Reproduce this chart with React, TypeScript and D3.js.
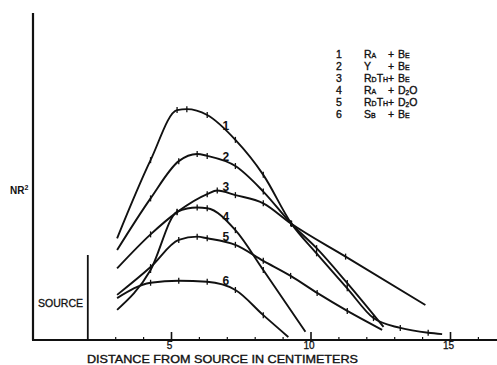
import * as d3 from 'd3'

const width = 497
const height = 365

// legend
const curveNumbers = ['1', '2', '3', '4', '5', '6']
const sources = ['Ra', 'Y', 'RdTh', 'Ra', 'RdTh', 'Sb']
const targets = ['Be', 'Be', 'Be', 'D2O', 'D2O', 'Be']

// [distance from source in cm, NR² in arbitrary units]
const curve1: [number, number][] = [
    [3.05, 31.1], [4.25, 55.0], [5.2, 70.3], [5.55, 70.6], [6.28, 68.8],
    [7.29, 61.2], [8.29, 50.5], [9.3, 35.6], [10.2, 26.5], [11.3, 15.8],
    [12.24, 6.7], [13.2, 3.7], [14.2, 2.2], [14.7, 1.8],
]
const curve2: [number, number][] = [
    [3.05, 27.5], [4.25, 43.3], [5.26, 54.7], [5.92, 56.9], [6.28, 56.3],
    [7.29, 53.2], [8.29, 45.4], [9.3, 35.5], [10.2, 28.1], [11.3, 17.4],
    [12.6, 4.0],
]
const curve3: [number, number][] = [
    [3.05, 21.9], [4.25, 32.3], [5.2, 39.1], [6.28, 44.6], [6.64, 45.7],
    [7.29, 44.3], [8.29, 41.8], [9.27, 35.7], [11.24, 25.5], [14.1, 10.7],
]
const curve4: [number, number][] = [
    [3.05, 9.2], [4.25, 21.4], [5.2, 39.2], [5.92, 40.5], [6.28, 40.3],
    [7.29, 33.6], [8.29, 21.4], [9.8, 2.5],
]
const curve5: [number, number][] = [
    [3.05, 13.8], [4.25, 22.3], [5.26, 30.6], [5.92, 31.6], [6.28, 31.1],
    [7.29, 29.1], [8.29, 24.2], [9.27, 19.6], [10.22, 14.4], [11.3, 8.9],
    [12.55, 3.1],
]
const curve6: [number, number][] = [
    [3.05, 12.8], [4.25, 17.5], [5.26, 18.1], [6.28, 17.8], [7.29, 15.3],
    [8.29, 7.6], [9.19, 0.9],
]
const curves = [curve1, curve2, curve3, curve4, curve5, curve6]
const labelAt = [6.95, 6.95, 6.95, 6.95, 6.95, 6.95]

const majorTicks = [5, 10, 15]
const minorTicks = [3, 4, 6, 7, 8, 9, 11, 12, 13, 14, 16]
const sourceAt = 2

const font = '"Liberation Sans", Arial, sans-serif'
const ink = '#111'

export default function App() {
    const x = d3.scaleLinear().domain([0, 15]).range([32, 450.5])
    const y = d3.scaleLinear().domain([0, 100]).range([340, 13])

    const line = d3
        .line<[number, number]>()
        .x((d) => x(d[0]))
        .y((d) => y(d[1]))
        .curve(d3.curveMonotoneX)

    // value of a curve at a given distance (piecewise linear)
    const valueAt = (c: [number, number][], at: number) =>
        d3
            .scaleLinear()
            .domain(c.map((d) => d[0]))
            .range(c.map((d) => d[1]))(at)

    const xEnd = x.invert(width)

    return (
        <svg
            width={width}
            height={height}
            style={{ position: 'absolute', left: 0, top: 0, background: 'white' }}
        >
            <rect width={width} height={height} fill="white" />

            {/* axes */}
            <line x1={x(0) + 1} x2={x(0) + 1} y1={y(100)} y2={y(0)} stroke={ink} strokeWidth={2.2} />
            <line x1={x(0)} x2={x(xEnd)} y1={y(0)} y2={y(0)} stroke={ink} strokeWidth={2} />
            {majorTicks.map((t) => (
                <g key={t}>
                    <line x1={x(t)} x2={x(t)} y1={y(0) - 8} y2={y(0) + 2} stroke={ink} strokeWidth={1.6} />
                    <text
                        x={x(t) - 2}
                        y={y(0) + 9}
                        textAnchor="middle"
                        fontFamily={font}
                        fontSize={10}
                        fill={ink}
                        stroke={ink}
                        strokeWidth={0.3}
                    >
                        {t}
                    </text>
                </g>
            ))}
            {minorTicks.map((t) => (
                <line key={t} x1={x(t)} x2={x(t)} y1={y(0) - 3} y2={y(0)} stroke={ink} strokeWidth={1.2} />
            ))}
            <text
                x={87}
                y={363}
                fontFamily={font}
                fontSize={11}
                textLength={271}
                lengthAdjust="spacingAndGlyphs"
                fill={ink}
                stroke={ink}
                strokeWidth={0.35}
            >
                DISTANCE FROM SOURCE IN CENTIMETERS
            </text>
            <text x={10} y={194} fontFamily={font} fontSize={10} fontWeight="bold" fill={ink}>
                NR<tspan fontSize={7} dy={-4}>2</tspan>
            </text>

            {/* source */}
            <line x1={x(sourceAt)} x2={x(sourceAt)} y1={255} y2={y(0)} stroke={ink} strokeWidth={1.8} />
            <text
                x={38}
                y={307}
                fontFamily={font}
                fontSize={10}
                textLength={45}
                lengthAdjust="spacingAndGlyphs"
                fill={ink}
                stroke={ink}
                strokeWidth={0.3}
            >
                SOURCE
            </text>

            {/* curves */}
            {curves.map((c, i) => (
                <g key={i}>
                    <path d={line(c) ?? undefined} fill="none" stroke={ink} strokeWidth={1.9} />
                    {c.slice(1, -1).map((d, j) => (
                        <line
                            key={j}
                            x1={x(d[0])}
                            x2={x(d[0])}
                            y1={y(d[1]) - 3}
                            y2={y(d[1]) + 3}
                            stroke={ink}
                            strokeWidth={1.3}
                        />
                    ))}
                    <text
                        x={x(labelAt[i])}
                        y={y(valueAt(c, labelAt[i])) - 2}
                        textAnchor="middle"
                        fontFamily={font}
                        fontSize={12}
                        fontWeight="bold"
                        fill={ink}
                    >
                        {curveNumbers[i]}
                    </text>
                </g>
            ))}

            {/* legend */}
            {curveNumbers.map((n, i) => {
                const by = 58 + i * 12
                return (
                    <g
                        key={n}
                        fontFamily={font}
                        fontSize={10.5}
                        fill={ink}
                        stroke={ink}
                        strokeWidth={0.35}
                    >
                        <text x={339} y={by} textAnchor="middle">
                            {n}
                        </text>
                        <text x={364} y={by} style={{ fontVariant: 'small-caps' }}>
                            {sources[i]}
                        </text>
                        <text x={391} y={by} textAnchor="middle">
                            +
                        </text>
                        {targets[i] === 'D2O' ? (
                            <text x={398} y={by}>
                                D<tspan fontSize={6.5} dy={1}>2</tspan>
                                <tspan dy={-1}>O</tspan>
                            </text>
                        ) : (
                            <text x={398} y={by} style={{ fontVariant: 'small-caps' }}>
                                {targets[i]}
                            </text>
                        )}
                    </g>
                )
            })}
        </svg>
    )
}
